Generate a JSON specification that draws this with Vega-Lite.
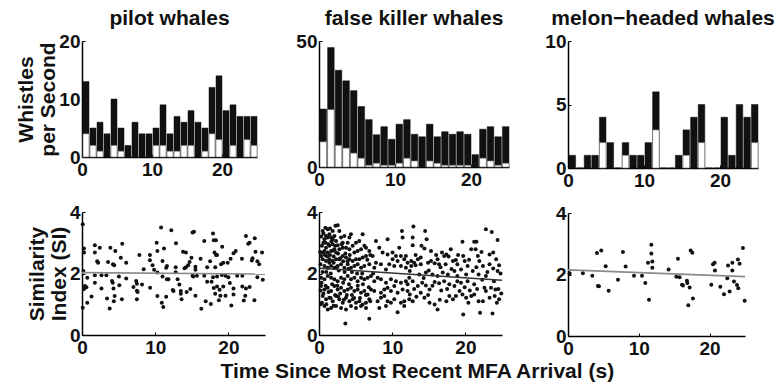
{
 "$schema": "https://vega.github.io/schema/vega-lite/v6.json",
 "background": "white",
 "padding": {"left": 15, "top": 8, "right": 0, "bottom": 0},
 "config": {
  "view": {"stroke": null},
  "font": "Liberation Sans",
  "axis": {"grid": false, "domainColor": "#000", "domainWidth": 1.5, "tickColor": "#000", "tickWidth": 1, "tickSize": -3, "labelFont": "Liberation Sans", "labelFontWeight": "bold", "labelFontSize": 19, "labelColor": "#111", "labelPadding": 5, "labelFlush": false, "labelOverlap": false, "titleFont": "Liberation Sans", "titleFontWeight": "bold", "titleFontSize": 21, "titleColor": "#111", "titleLineHeight": 22},
  "axisX": {"labelPadding": 6},
  "title": {"font": "Liberation Sans", "fontWeight": "bold", "fontSize": 21, "color": "#111", "offset": 3}
 },
 "title": {"text": "Time Since Most Recent MFA Arrival (s)", "orient": "bottom", "anchor": "middle", "fontSize": 21, "offset": 3, "dx": 22},
 "spacing": 26,
 "datasets": {
  "pilotBars": [
   {"s":0,"e":1,"total":13,"sub":4},{"s":1,"e":2,"total":5,"sub":2},{"s":2,"e":3,"total":6,"sub":1},{"s":3,"e":4,"total":4,"sub":0},{"s":4,"e":5,"total":10,"sub":2},
   {"s":5,"e":6,"total":5,"sub":1},{"s":6,"e":7,"total":2,"sub":0},{"s":7,"e":8,"total":6,"sub":0},{"s":8,"e":9,"total":4,"sub":0},{"s":9,"e":10,"total":4,"sub":0},
   {"s":10,"e":11,"total":5,"sub":2},{"s":11,"e":12,"total":9,"sub":2},{"s":12,"e":13,"total":4,"sub":1},{"s":13,"e":14,"total":7,"sub":1},{"s":14,"e":15,"total":6,"sub":2},
   {"s":15,"e":16,"total":8,"sub":2},{"s":16,"e":17,"total":6,"sub":0},{"s":17,"e":18,"total":5,"sub":1},{"s":18,"e":19,"total":12,"sub":4},{"s":19,"e":20,"total":14,"sub":3},
   {"s":20,"e":21,"total":8,"sub":0},{"s":21,"e":22,"total":9,"sub":2},{"s":22,"e":23,"total":7,"sub":0},{"s":23,"e":24,"total":7,"sub":3},{"s":24,"e":25,"total":7,"sub":2}
  ],
  "fkwBars": [
   {"s":0,"e":1,"total":23,"sub":10},{"s":1,"e":2,"total":47.4,"sub":22.8},{"s":2,"e":3,"total":38.4,"sub":8.6},{"s":3,"e":4,"total":34.2,"sub":7.5},{"s":4,"e":5,"total":30.3,"sub":5.5},
   {"s":5,"e":6,"total":24,"sub":3.5},{"s":6,"e":7,"total":18.8,"sub":0.7},{"s":7,"e":8,"total":12.8,"sub":1.5},{"s":8,"e":9,"total":16,"sub":0.7},{"s":9,"e":10,"total":11,"sub":0.7},
   {"s":10,"e":11,"total":17,"sub":1.5},{"s":11,"e":12,"total":18.8,"sub":3.5},{"s":12,"e":13,"total":13,"sub":2.4},{"s":13,"e":14,"total":12,"sub":0},{"s":14,"e":15,"total":17,"sub":2.4},
   {"s":15,"e":16,"total":12,"sub":1.5},{"s":16,"e":17,"total":14,"sub":0.7},{"s":17,"e":18,"total":13,"sub":0.7},{"s":18,"e":19,"total":14,"sub":0.7},{"s":19,"e":20,"total":13,"sub":0.7},
   {"s":20,"e":21,"total":4.9,"sub":0},{"s":21,"e":22,"total":15,"sub":3.5},{"s":22,"e":23,"total":16,"sub":2.4},{"s":23,"e":24,"total":12,"sub":0.7},{"s":24,"e":25,"total":16,"sub":1.5}
  ],
  "melonBars": [
   {"s":0,"e":1,"total":1,"sub":0},{"s":1,"e":2,"total":0,"sub":0},{"s":2,"e":3,"total":1,"sub":0},{"s":3,"e":4,"total":1,"sub":0},{"s":4,"e":5,"total":4,"sub":2},
   {"s":5,"e":6,"total":2,"sub":0},{"s":6,"e":7,"total":0,"sub":0},{"s":7,"e":8,"total":2,"sub":1},{"s":8,"e":9,"total":1,"sub":0},{"s":9,"e":10,"total":1,"sub":0},
   {"s":10,"e":11,"total":2,"sub":0},{"s":11,"e":12,"total":6,"sub":3},{"s":12,"e":13,"total":0,"sub":0},{"s":13,"e":14,"total":0,"sub":0},{"s":14,"e":15,"total":1,"sub":0},
   {"s":15,"e":16,"total":3,"sub":1},{"s":16,"e":17,"total":4,"sub":0},{"s":17,"e":18,"total":5,"sub":2},{"s":18,"e":19,"total":0,"sub":0},{"s":19,"e":20,"total":0,"sub":0},
   {"s":20,"e":21,"total":4,"sub":0},{"s":21,"e":22,"total":1,"sub":0},{"s":22,"e":23,"total":5,"sub":0},{"s":23,"e":24,"total":4,"sub":0},{"s":24,"e":25,"total":5,"sub":2}
  ],
  "pilotFit": [{"t":0,"si":2.03},{"t":25,"si":1.98}],
  "fkwFit": [{"t":0,"si":2.17},{"t":25,"si":1.78}],
  "melonFit": [{"t":0,"si":2.15},{"t":25,"si":1.93}],
  "pilotSI": [
   {"t":0.1,"si":3.6},{"t":0.27,"si":2.81},{"t":0.27,"si":2.68},{"t":0.2,"si":2.08},{"t":0.72,"si":1.86},{"t":0.4,"si":1.59},{"t":0.6,"si":1.55},{"t":0.27,"si":1.5},{"t":0.1,"si":0.89},{"t":0.72,"si":1.05},
   {"t":1.3,"si":1.25},{"t":1.76,"si":2.92},{"t":1.76,"si":2.68},{"t":2.43,"si":2.84},{"t":2.07,"si":2.4},{"t":2.2,"si":2.35},{"t":1.76,"si":1.94},{"t":1.76,"si":1.7},{"t":2.66,"si":1.94},{"t":3.33,"si":1.94},
   {"t":2.66,"si":1.51},{"t":3.42,"si":1.19},{"t":3.87,"si":2.84},{"t":4.55,"si":2.73},{"t":3.56,"si":2.37},{"t":4.23,"si":2.3},{"t":4.4,"si":2.27},{"t":4.1,"si":1.76},{"t":4.2,"si":1.7},{"t":4.3,"si":1.51},
   {"t":5.04,"si":1.9},{"t":5.1,"si":1.62},{"t":4.46,"si":1.27},{"t":4.35,"si":1.1},{"t":3.78,"si":0.86},{"t":5.45,"si":1.16},{"t":5.5,"si":2.97},{"t":5.3,"si":2.51},{"t":6.04,"si":2.35},{"t":6.04,"si":1.84},
   {"t":7.03,"si":1.56},{"t":7.4,"si":1.76},{"t":7.5,"si":1.67},{"t":7.5,"si":1.44},{"t":7.6,"si":1.4},{"t":7.5,"si":1.16},{"t":8.2,"si":1.64},{"t":7.84,"si":2.6},{"t":8.43,"si":2.14},{"t":9.28,"si":2.6},
   {"t":9.28,"si":2.43},{"t":9.3,"si":1.54},{"t":9.64,"si":2.27},{"t":9.85,"si":2.12},{"t":10.2,"si":3.0},{"t":10.3,"si":2.73},{"t":10.8,"si":3.5},{"t":11.2,"si":2.81},{"t":11.0,"si":2.41},{"t":11.5,"si":2.19},
   {"t":11.6,"si":2.24},{"t":10.3,"si":2.03},{"t":11.6,"si":1.81},{"t":11.8,"si":1.81},{"t":11.0,"si":1.9},{"t":10.3,"si":1.27},{"t":11.5,"si":1.24},{"t":10.9,"si":1.05},{"t":11.1,"si":0.91},{"t":12.2,"si":3.41},
   {"t":12.4,"si":1.46},{"t":12.84,"si":2.98},{"t":15.1,"si":3.33},{"t":15.3,"si":3.36},{"t":16.7,"si":3.06},{"t":17.9,"si":3.3},{"t":18.0,"si":3.08},{"t":18.3,"si":3.08},{"t":19.15,"si":2.87},{"t":13.8,"si":2.71},
   {"t":14.2,"si":2.68},{"t":14.95,"si":2.51},{"t":14.7,"si":2.37},{"t":14.5,"si":2.27},{"t":14.2,"si":2.2},{"t":14.0,"si":2.17},{"t":15.5,"si":2.22},{"t":15.5,"si":2.12},{"t":16.2,"si":2.48},{"t":17.1,"si":2.2},
   {"t":17.5,"si":2.4},{"t":18.1,"si":2.68},{"t":18.3,"si":2.6},{"t":18.45,"si":2.6},{"t":18.2,"si":2.2},{"t":19.0,"si":2.3},{"t":19.3,"si":2.35},{"t":19.9,"si":2.35},{"t":20.3,"si":2.48},{"t":20.7,"si":2.66},
   {"t":21.0,"si":2.73},{"t":21.85,"si":2.48},{"t":22.4,"si":3.22},{"t":22.9,"si":3.0},{"t":22.7,"si":2.97},{"t":23.6,"si":3.15},{"t":23.7,"si":2.71},{"t":23.3,"si":2.5},{"t":23.2,"si":2.42},{"t":23.96,"si":2.4},
   {"t":12.8,"si":2.2},{"t":12.8,"si":2.04},{"t":13.06,"si":1.81},{"t":13.3,"si":1.64},{"t":13.5,"si":1.43},{"t":13.5,"si":1.34},{"t":13.6,"si":1.16},{"t":12.5,"si":1.43},{"t":14.3,"si":1.4},{"t":14.8,"si":1.5},
   {"t":15.5,"si":1.28},{"t":15.1,"si":1.93},{"t":15.2,"si":1.9},{"t":15.7,"si":1.93},{"t":16.7,"si":1.93},{"t":17.1,"si":1.73},{"t":17.7,"si":1.73},{"t":17.9,"si":1.88},{"t":18.45,"si":1.9},{"t":19.1,"si":1.95},
   {"t":19.6,"si":1.93},{"t":20.0,"si":1.88},{"t":21.2,"si":1.93},{"t":21.9,"si":1.93},{"t":18.0,"si":1.53},{"t":18.45,"si":1.58},{"t":18.8,"si":1.47},{"t":19.3,"si":1.58},{"t":18.2,"si":1.34},{"t":18.9,"si":1.28},
   {"t":18.7,"si":1.13},{"t":19.6,"si":1.28},{"t":20.2,"si":1.69},{"t":20.7,"si":1.51},{"t":20.7,"si":1.32},{"t":21.9,"si":1.58},{"t":22.4,"si":1.51},{"t":22.9,"si":1.56},{"t":22.3,"si":1.28},{"t":22.1,"si":1.12},
   {"t":16.9,"si":1.1},{"t":17.6,"si":1.01},{"t":16.3,"si":0.85},{"t":20.4,"si":0.96},{"t":23.55,"si":1.13},{"t":23.96,"si":1.88},{"t":24.6,"si":2.68},{"t":24.7,"si":1.8},{"t":24.2,"si":2.3}
  ],
  "fkwSI": [
   {"t":0.51,"si":3.38},{"t":0.87,"si":3.49},{"t":1.19,"si":3.44},{"t":1.51,"si":3.46},{"t":1.87,"si":3.38},{"t":2.24,"si":3.55},{"t":2.55,"si":3.57},{"t":1.42,"si":3.28},{"t":0.96,"si":3.22},{"t":0.74,"si":3.11},
   {"t":0.6,"si":3.0},{"t":1.19,"si":3.17},{"t":1.65,"si":3.17},{"t":1.87,"si":3.11},{"t":2.1,"si":3.22},{"t":2.33,"si":3.06},{"t":2.78,"si":3.38},{"t":3.01,"si":3.17},{"t":3.46,"si":3.22},{"t":4.15,"si":3.17},
   {"t":4.37,"si":3.28},{"t":3.92,"si":3.0},{"t":3.24,"si":3.0},{"t":2.55,"si":2.92},{"t":1.87,"si":2.95},{"t":1.42,"si":2.9},{"t":0.96,"si":2.84},{"t":0.74,"si":2.73},{"t":0.51,"si":2.68},{"t":1.19,"si":2.68},
   {"t":1.65,"si":2.73},{"t":2.1,"si":2.79},{"t":2.33,"si":2.68},{"t":2.78,"si":2.79},{"t":3.24,"si":2.84},{"t":3.69,"si":2.84},{"t":4.15,"si":2.79},{"t":4.6,"si":2.9},{"t":5.05,"si":3.0},{"t":5.5,"si":3.06},
   {"t":5.96,"si":3.28},{"t":5.28,"si":2.73},{"t":4.83,"si":2.68},{"t":5.74,"si":2.79},{"t":6.42,"si":2.84},{"t":6.87,"si":2.73},{"t":7.33,"si":2.57},{"t":6.42,"si":2.57},{"t":5.96,"si":2.52},{"t":5.51,"si":2.46},
   {"t":5.05,"si":2.46},{"t":4.6,"si":2.41},{"t":4.15,"si":2.46},{"t":3.69,"si":2.52},{"t":3.24,"si":2.57},{"t":2.78,"si":2.46},{"t":2.33,"si":2.46},{"t":1.87,"si":2.41},{"t":1.42,"si":2.46},{"t":0.96,"si":2.41},
   {"t":0.51,"si":2.46},{"t":0.28,"si":2.57},{"t":0.74,"si":2.24},{"t":1.19,"si":2.19},{"t":1.65,"si":2.24},{"t":2.1,"si":2.19},{"t":2.55,"si":2.24},{"t":3.01,"si":2.3},{"t":3.46,"si":2.19},{"t":3.92,"si":2.3},
   {"t":4.37,"si":2.19},{"t":4.83,"si":2.24},{"t":5.28,"si":2.3},{"t":5.74,"si":2.19},{"t":6.19,"si":2.24},{"t":6.87,"si":2.3},{"t":7.55,"si":2.19},{"t":7.78,"si":2.35},{"t":8.46,"si":2.3},{"t":9.15,"si":2.13},
   {"t":9.6,"si":2.3},{"t":10.28,"si":2.24},{"t":11.19,"si":2.24},{"t":11.65,"si":2.46},{"t":11.87,"si":2.19},{"t":10.74,"si":2.41},{"t":10.05,"si":2.46},{"t":10.96,"si":2.84},{"t":11.33,"si":3.38},{"t":11.42,"si":3.17},
   {"t":7.78,"si":3.06},{"t":9.37,"si":3.11},{"t":8.69,"si":2.68},{"t":9.37,"si":2.62},{"t":10.05,"si":2.68},{"t":10.51,"si":2.57},{"t":11.19,"si":2.57},{"t":11.87,"si":2.57},{"t":12.1,"si":2.35},{"t":8.24,"si":2.84},
   {"t":0.28,"si":1.86},{"t":0.74,"si":1.81},{"t":1.19,"si":1.92},{"t":1.65,"si":1.86},{"t":2.1,"si":1.81},{"t":2.55,"si":1.75},{"t":3.01,"si":1.86},{"t":3.46,"si":1.81},{"t":3.92,"si":1.92},{"t":4.37,"si":1.81},
   {"t":4.83,"si":1.86},{"t":5.28,"si":1.75},{"t":5.74,"si":1.86},{"t":6.19,"si":1.81},{"t":6.65,"si":1.86},{"t":7.1,"si":1.92},{"t":7.55,"si":1.75},{"t":8.01,"si":1.86},{"t":8.46,"si":1.81},{"t":9.15,"si":1.7},
   {"t":9.83,"si":1.81},{"t":10.51,"si":1.75},{"t":11.19,"si":1.7},{"t":11.87,"si":1.75},{"t":12.33,"si":1.86},
   {"t":0.28,"si":1.59},{"t":0.74,"si":1.48},{"t":1.19,"si":1.54},{"t":1.65,"si":1.43},{"t":2.1,"si":1.59},{"t":2.55,"si":1.48},{"t":3.01,"si":1.54},{"t":3.46,"si":1.43},{"t":3.92,"si":1.48},{"t":4.37,"si":1.54},
   {"t":4.83,"si":1.43},{"t":5.28,"si":1.48},{"t":5.74,"si":1.37},{"t":6.19,"si":1.43},{"t":6.65,"si":1.32},{"t":7.1,"si":1.48},{"t":7.55,"si":1.43},{"t":8.46,"si":1.37},{"t":8.92,"si":1.48},{"t":9.37,"si":1.54},
   {"t":9.83,"si":1.43},{"t":10.28,"si":1.59},{"t":10.74,"si":1.37},{"t":11.42,"si":1.48},{"t":12.1,"si":1.43},
   {"t":0.51,"si":1.27},{"t":0.96,"si":1.16},{"t":1.42,"si":1.21},{"t":1.87,"si":1.1},{"t":2.33,"si":1.27},{"t":2.78,"si":1.16},{"t":3.24,"si":1.05},{"t":3.69,"si":1.21},{"t":4.15,"si":1.1},{"t":4.6,"si":1.16},
   {"t":5.05,"si":1.05},{"t":5.51,"si":1.1},{"t":5.96,"si":0.99},{"t":6.42,"si":1.05},{"t":6.87,"si":1.16},{"t":8.01,"si":1.1},{"t":8.46,"si":1.21},{"t":8.92,"si":1.27},{"t":9.37,"si":1.1},{"t":9.83,"si":1.05},
   {"t":10.28,"si":1.16},{"t":11.19,"si":1.05},{"t":11.65,"si":1.1},{"t":12.33,"si":1.16},
   {"t":0.74,"si":0.94},{"t":1.19,"si":0.83},{"t":1.65,"si":0.88},{"t":2.33,"si":0.94},{"t":3.01,"si":0.88},{"t":3.69,"si":0.83},{"t":4.37,"si":0.94},{"t":5.05,"si":0.88},{"t":5.74,"si":0.94},{"t":6.42,"si":0.88},
   {"t":8.24,"si":0.88},{"t":9.15,"si":0.94},{"t":10.74,"si":0.74},{"t":11.65,"si":0.94},{"t":3.6,"si":0.37},{"t":6.87,"si":0.53},
   {"t":0.3,"si":3.2},{"t":0.4,"si":2.9},{"t":0.6,"si":3.3},{"t":0.9,"si":3.0},{"t":1.1,"si":2.55},{"t":1.3,"si":2.95},{"t":1.5,"si":2.6},{"t":1.7,"si":3.05},{"t":1.9,"si":2.75},{"t":2.0,"si":2.35},
   {"t":2.2,"si":2.9},{"t":2.4,"si":2.2},{"t":2.6,"si":2.65},{"t":2.9,"si":2.5},{"t":3.1,"si":2.95},{"t":3.3,"si":2.4},{"t":3.6,"si":2.65},{"t":3.9,"si":2.4},{"t":4.2,"si":2.6},{"t":0.2,"si":2.3},
   {"t":0.5,"si":2.05},{"t":0.8,"si":2.6},{"t":1.0,"si":2.05},{"t":1.4,"si":2.35},{"t":1.6,"si":2.0},{"t":2.0,"si":2.55},{"t":2.7,"si":2.1},{"t":3.5,"si":2.05},{"t":4.0,"si":2.15},{"t":4.5,"si":2.05},
   {"t":0.35,"si":1.7},{"t":0.6,"si":1.35},{"t":0.9,"si":1.6},{"t":1.3,"si":1.4},{"t":1.8,"si":1.65},{"t":2.2,"si":1.3},{"t":2.5,"si":1.6},{"t":2.9,"si":1.35},{"t":3.3,"si":1.7},{"t":3.8,"si":1.3},
   {"t":4.1,"si":1.65},{"t":4.5,"si":1.3},{"t":0.4,"si":1.05},{"t":1.0,"si":1.0},{"t":1.6,"si":1.2},{"t":2.0,"si":0.95},{"t":2.6,"si":1.25},{"t":3.4,"si":1.15},{"t":4.8,"si":1.2},{"t":5.3,"si":1.6},
   {"t":5.6,"si":1.2},{"t":6.0,"si":1.65},{"t":6.4,"si":1.3},{"t":6.8,"si":1.55},{"t":7.0,"si":1.1},{"t":7.4,"si":2.0},{"t":7.0,"si":2.6},{"t":6.2,"si":2.9},{"t":6.6,"si":2.45},{"t":5.9,"si":2.0},
   {"t":5.2,"si":2.0},{"t":0.15,"si":2.7},{"t":0.2,"si":1.45},{"t":0.25,"si":1.0},
   {"t":12.9,"si":3.53},{"t":12.8,"si":3.17},{"t":12.8,"si":2.92},{"t":14.5,"si":3.38},{"t":14.7,"si":3.11},{"t":14.4,"si":2.81},{"t":15.3,"si":2.73},{"t":12.6,"si":2.41},{"t":13.0,"si":2.35},{"t":13.5,"si":2.46},
   {"t":13.9,"si":2.52},{"t":12.6,"si":2.24},{"t":13.2,"si":2.27},{"t":13.9,"si":2.3},{"t":14.9,"si":2.35},{"t":15.3,"si":2.41},{"t":15.8,"si":2.33},{"t":16.2,"si":2.46},{"t":16.4,"si":2.3},{"t":16.8,"si":2.68},
   {"t":17.1,"si":2.57},{"t":17.4,"si":2.62},{"t":17.7,"si":2.55},{"t":18.0,"si":2.79},{"t":18.3,"si":2.41},{"t":18.7,"si":2.44},{"t":18.9,"si":2.3},{"t":19.6,"si":3.03},{"t":19.7,"si":2.57},{"t":19.9,"si":2.41},
   {"t":19.4,"si":2.13},{"t":20.3,"si":2.24},{"t":20.8,"si":2.79},{"t":21.2,"si":3.03},{"t":21.5,"si":3.03},{"t":21.4,"si":2.79},{"t":21.7,"si":2.57},{"t":21.9,"si":2.41},{"t":22.4,"si":2.24},{"t":22.8,"si":3.44},
   {"t":23.6,"si":3.35},{"t":24.4,"si":3.09},{"t":23.3,"si":2.62},{"t":23.8,"si":2.68},{"t":24.2,"si":2.46},{"t":23.3,"si":2.3},{"t":23.8,"si":2.16},{"t":24.4,"si":2.08},{"t":24.6,"si":2.27},{"t":12.4,"si":2.08},
   {"t":13.7,"si":1.97},{"t":14.6,"si":2.03},{"t":15.5,"si":1.97},{"t":16.2,"si":1.92},{"t":16.9,"si":2.03},{"t":17.6,"si":1.97},{"t":18.5,"si":2.08},{"t":18.9,"si":1.92},{"t":20.1,"si":1.97},{"t":21.0,"si":2.08},
   {"t":21.8,"si":1.97},{"t":22.8,"si":1.92},{"t":12.1,"si":1.65},{"t":12.8,"si":1.75},{"t":13.5,"si":1.59},{"t":14.1,"si":1.7},{"t":14.6,"si":1.61},{"t":15.1,"si":1.48},{"t":15.8,"si":1.72},{"t":16.4,"si":1.68},
   {"t":17.1,"si":1.75},{"t":17.8,"si":1.65},{"t":18.5,"si":1.59},{"t":19.4,"si":1.7},{"t":20.3,"si":1.75},{"t":21.2,"si":1.65},{"t":22.6,"si":1.54},{"t":22.8,"si":1.43},{"t":23.5,"si":1.54},{"t":24.1,"si":1.48},
   {"t":24.5,"si":1.5},{"t":12.4,"si":1.32},{"t":12.8,"si":1.1},{"t":13.3,"si":1.24},{"t":13.9,"si":1.37},{"t":14.4,"si":1.21},{"t":15.1,"si":1.05},{"t":15.8,"si":0.99},{"t":16.2,"si":0.83},{"t":17.4,"si":1.1},
   {"t":17.8,"si":1.27},{"t":18.3,"si":1.16},{"t":18.7,"si":1.27},{"t":19.2,"si":1.43},{"t":19.6,"si":1.32},{"t":20.1,"si":1.21},{"t":20.8,"si":1.27},{"t":21.2,"si":1.32},{"t":22.4,"si":1.1},{"t":23.3,"si":1.21},
   {"t":24.0,"si":1.27},{"t":24.6,"si":1.16},{"t":19.7,"si":0.67},{"t":22.0,"si":0.72},{"t":23.7,"si":0.7},
   {"t":13.2,"si":2.6},{"t":14.0,"si":2.9},{"t":15.0,"si":2.1},{"t":16.0,"si":2.6},{"t":16.6,"si":2.2},{"t":17.3,"si":2.3},{"t":18.1,"si":2.15},{"t":19.0,"si":2.6},{"t":20.5,"si":2.45},{"t":21.5,"si":2.2},
   {"t":22.2,"si":2.7},{"t":23.0,"si":2.05},{"t":24.8,"si":2.0},{"t":24.9,"si":1.35},{"t":13.0,"si":1.5},{"t":14.3,"si":1.85},{"t":15.5,"si":1.6},{"t":16.7,"si":1.45},{"t":17.5,"si":1.5},{"t":18.9,"si":1.75},
   {"t":19.9,"si":1.55},{"t":20.6,"si":1.45},{"t":21.6,"si":1.5},{"t":22.3,"si":1.8},{"t":23.9,"si":1.75},{"t":24.3,"si":1.05},{"t":16.5,"si":1.15},{"t":21.8,"si":1.1},{"t":20.4,"si":1.05},{"t":14.9,"si":1.3}
  ],
  "melonSI": [
   {"t":0.23,"si":2.04},{"t":2.1,"si":2.04},{"t":3.43,"si":1.96},{"t":4.09,"si":2.7},{"t":4.7,"si":2.78},{"t":4.23,"si":1.63},{"t":4.37,"si":1.62},{"t":5.32,"si":2.27},{"t":5.74,"si":1.47},{"t":7.06,"si":1.83},
   {"t":7.76,"si":2.73},{"t":8.14,"si":2.26},{"t":9.32,"si":1.96},{"t":10.45,"si":1.96},{"t":10.92,"si":1.72},{"t":11.3,"si":2.38},{"t":11.77,"si":2.97},{"t":11.77,"si":2.68},{"t":11.91,"si":2.42},{"t":11.91,"si":2.22},
   {"t":11.44,"si":1.18},{"t":14.21,"si":2.16},{"t":15.53,"si":2.51},{"t":15.3,"si":1.93},{"t":15.77,"si":1.91},{"t":16.24,"si":1.64},{"t":16.1,"si":1.67},{"t":16.8,"si":1.8},{"t":16.85,"si":1.72},{"t":17.18,"si":1.58},
   {"t":17.32,"si":2.78},{"t":17.56,"si":2.71},{"t":17.65,"si":1.22},{"t":16.99,"si":1.0},{"t":20.24,"si":1.67},{"t":20.48,"si":2.33},{"t":20.71,"si":2.38},{"t":20.76,"si":2.13},{"t":21.51,"si":1.6},{"t":22.03,"si":1.36},
   {"t":22.5,"si":1.88},{"t":22.6,"si":2.29},{"t":23.21,"si":2.38},{"t":23.21,"si":2.13},{"t":22.83,"si":1.45},{"t":23.44,"si":1.77},{"t":23.87,"si":1.66},{"t":24.05,"si":1.55},{"t":24.0,"si":2.49},{"t":24.24,"si":2.35},
   {"t":24.71,"si":2.86},{"t":24.95,"si":1.15}
  ]
 },
 "hconcat": [
  {
   "spacing": 24,
   "vconcat": [
    {
     "title": "pilot whales",
     "width": 175, "height": 116,
     "data": {"name": "pilotBars"},
     "encoding": {
      "x": {"field": "s", "type": "quantitative", "bin": "binned", "scale": {"domain": [0, 25], "nice": false}, "axis": {"values": [0, 10, 20], "title": null}},
      "x2": {"field": "e"}
     },
     "layer": [
      {"mark": {"type": "bar", "color": "#111", "stroke": "#111", "strokeWidth": 0.5},
       "encoding": {"y": {"field": "total", "type": "quantitative", "scale": {"domain": [0, 20], "nice": false}, "axis": {"values": [0, 10, 20], "title": ["Whistles", "per Second"], "titlePadding": 0}}}},
      {"transform": [{"filter": "datum.sub > 0"}],
       "mark": {"type": "bar", "color": "white", "stroke": "#666", "strokeWidth": 0.6},
       "encoding": {"y": {"field": "sub", "type": "quantitative", "axis": {"values": [0, 10, 20], "title": ["Whistles", "per Second"], "titlePadding": 0}}}}
     ]
    },
    {
     "width": 183, "height": 123,
     "encoding": {
      "x": {"field": "t", "type": "quantitative", "scale": {"domain": [0, 25], "nice": false}, "axis": {"values": [0, 10, 20], "title": null}},
      "y": {"field": "si", "type": "quantitative", "scale": {"domain": [0, 4], "nice": false}, "axis": {"values": [0, 2, 4], "title": ["Similarity", "Index (SI)"], "titlePadding": 0}}
     },
     "layer": [
      {"data": {"name": "pilotSI"}, "mark": {"type": "point", "filled": true, "size": 16, "color": "#111", "opacity": 1}},
      {"data": {"name": "pilotFit"}, "mark": {"type": "line", "color": "#8a8a8a", "strokeWidth": 1.6}}
     ]
    }
   ]
  },
  {
   "spacing": 14,
   "vconcat": [
    {
     "title": "false killer whales",
     "width": 190, "height": 126,
     "data": {"name": "fkwBars"},
     "encoding": {
      "x": {"field": "s", "type": "quantitative", "bin": "binned", "scale": {"domain": [0, 25], "nice": false}, "axis": {"values": [0, 10, 20], "title": null}},
      "x2": {"field": "e"}
     },
     "layer": [
      {"mark": {"type": "bar", "color": "#111", "stroke": "#111", "strokeWidth": 0.5},
       "encoding": {"y": {"field": "total", "type": "quantitative", "scale": {"domain": [0, 50], "nice": false}, "axis": {"values": [0, 50], "title": null}}}},
      {"transform": [{"filter": "datum.sub > 0"}],
       "mark": {"type": "bar", "color": "white", "stroke": "#666", "strokeWidth": 0.6},
       "encoding": {"y": {"field": "sub", "type": "quantitative", "axis": {"values": [0, 50], "title": null}}}}
     ]
    },
    {
     "width": 183, "height": 123,
     "encoding": {
      "x": {"field": "t", "type": "quantitative", "scale": {"domain": [0, 25], "nice": false}, "axis": {"values": [0, 10, 20], "title": null}},
      "y": {"field": "si", "type": "quantitative", "scale": {"domain": [0, 4], "nice": false}, "axis": {"values": [0, 2, 4], "title": null}}
     },
     "layer": [
      {"data": {"name": "fkwSI"}, "mark": {"type": "point", "filled": true, "size": 16, "color": "#111", "opacity": 1}},
      {"data": {"name": "fkwFit"}, "mark": {"type": "line", "color": "#333", "strokeWidth": 1.6}}
     ]
    }
   ]
  },
  {
   "spacing": 14,
   "vconcat": [
    {
     "title": "melon−headed whales",
     "width": 190, "height": 127,
     "data": {"name": "melonBars"},
     "encoding": {
      "x": {"field": "s", "type": "quantitative", "bin": "binned", "scale": {"domain": [0, 25], "nice": false}, "axis": {"values": [0, 10, 20], "title": null}},
      "x2": {"field": "e"}
     },
     "layer": [
      {"mark": {"type": "bar", "color": "#111", "stroke": "#111", "strokeWidth": 0.5},
       "encoding": {"y": {"field": "total", "type": "quantitative", "scale": {"domain": [0, 10], "nice": false}, "axis": {"values": [0, 5, 10], "title": " ", "titleFontSize": 8, "titlePadding": 0}}}},
      {"transform": [{"filter": "datum.sub > 0"}],
       "mark": {"type": "bar", "color": "white", "stroke": "#666", "strokeWidth": 0.6},
       "encoding": {"y": {"field": "sub", "type": "quantitative", "axis": {"values": [0, 5, 10], "title": " ", "titleFontSize": 8, "titlePadding": 0}}}}
     ]
    },
    {
     "width": 177, "height": 123,
     "encoding": {
      "x": {"field": "t", "type": "quantitative", "scale": {"domain": [0, 25], "nice": false}, "axis": {"values": [0, 10, 20], "title": null}},
      "y": {"field": "si", "type": "quantitative", "scale": {"domain": [0, 4], "nice": false}, "axis": {"values": [0, 2, 4], "title": null}}
     },
     "layer": [
      {"data": {"name": "melonSI"}, "mark": {"type": "point", "filled": true, "size": 16, "color": "#111", "opacity": 1}},
      {"data": {"name": "melonFit"}, "mark": {"type": "line", "color": "#8a8a8a", "strokeWidth": 1.6}}
     ]
    }
   ]
  }
 ]
}
